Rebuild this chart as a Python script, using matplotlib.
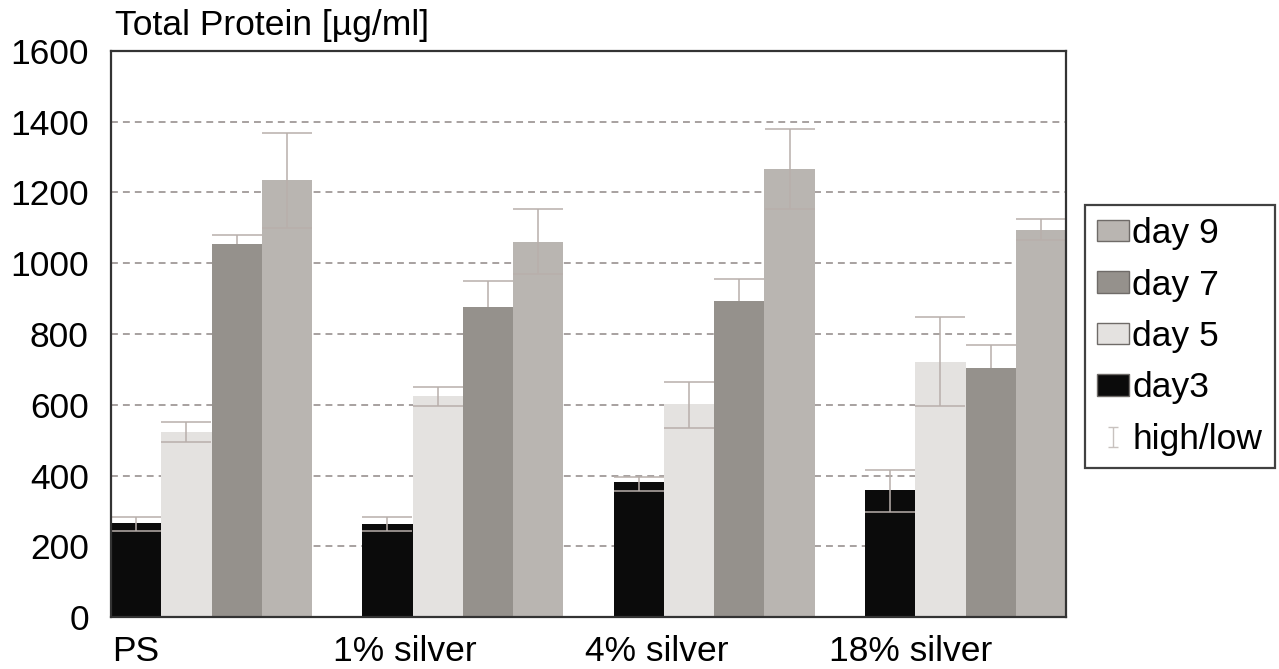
import matplotlib.pyplot as plt
import numpy as np
from matplotlib.lines import Line2D
from matplotlib.patches import Patch
from matplotlib.path import Path

plt.rcParams['font.family'] = ['Liberation Sans', 'DejaVu Sans']

# total protein per sample and day: mean with high/low values
samples = ['PS', '1% silver', '4% silver', '18% silver']
days = ['day3', 'day 5', 'day 7', 'day 9']

day3_mean = [265, 262, 381, 359]
day3_high = [283, 282, 396, 415]
day3_low = [244, 244, 356, 297]

day5_mean = [522, 625, 601, 720]
day5_high = [552, 651, 665, 847]
day5_low = [494, 597, 533, 597]

day7_mean = [1054, 877, 893, 703]
day7_high = [1080, 951, 955, 769]
day7_low = [1054, 877, 893, 703]

day9_mean = [1235, 1061, 1265, 1094]
day9_high = [1367, 1152, 1379, 1125]
day9_low = [1100, 969, 1152, 1066]

y_ticks = [0, 200, 400, 600, 800, 1000, 1200, 1400, 1600]

colors = ['#0b0b0b', '#e4e2e0', '#95918c', '#b9b5b1']
err_color = '#b8afab'
fsize = 25.5

series = [
    (day3_mean, day3_high, day3_low),
    (day5_mean, day5_high, day5_low),
    (day7_mean, day7_high, day7_low),
    (day9_mean, day9_high, day9_low),
]

fig = plt.figure(figsize=(12.79, 6.69), dpi=100)
ax = fig.add_axes([0.0868, 0.0777, 0.7467, 0.8461])

n_days = len(days)
group_step = n_days + 1
base = np.arange(len(samples)) * group_step

for i, (mean, high, low) in enumerate(series):
    mean = np.array(mean)
    xs = base + i + 0.5
    ax.bar(xs, mean, width=1.0, color=colors[i], zorder=2)
    yerr = [mean - np.array(low), np.array(high) - mean]
    eb = ax.errorbar(xs, mean, yerr=yerr, fmt='none', ecolor=err_color,
                     elinewidth=1.1, capsize=18, capthick=1.1, zorder=3)
    if i == 2:
        # day 7 only carries the upper whisker
        eb.lines[1][0].set_visible(False)

ax.set_xlim(0, base[-1] + n_days)
ax.set_ylim(0, 1600)
ax.set_yticks(y_ticks)
ax.tick_params(axis='y', length=0, pad=16, labelsize=fsize)

label_x = [0.02, 4.41, 9.42, 14.29]
ax.set_xticks(label_x)
ax.set_xticklabels(samples, ha='left')
ax.tick_params(axis='x', length=0, pad=13, labelsize=fsize)

ax.yaxis.grid(True, color='#8f8886', linewidth=1.1, linestyle=(0, (4.5, 3.3)), zorder=1)
ax.set_axisbelow(True)
for side in ['top', 'right', 'bottom', 'left']:
    ax.spines[side].set_color('#333333')
    ax.spines[side].set_linewidth(1.6)
    ax.spines[side].set_zorder(4)

fig.text(115 / 1279, 0.948, 'Total Protein [µg/ml]', fontsize=fsize, va='baseline')

# I-shaped marker for the high/low entry
i_path = Path([(-0.5, 1), (0.5, 1), (0, 1), (0, -1), (-0.5, -1), (0.5, -1)],
              [Path.MOVETO, Path.LINETO, Path.MOVETO, Path.LINETO, Path.MOVETO, Path.LINETO])
handles = [Patch(facecolor=colors[k], edgecolor='#6f6b68', linewidth=1.0) for k in [3, 2, 1, 0]]
handles.append(Line2D([], [], linestyle='none', marker=i_path, markersize=15,
                      markeredgecolor='#c8c2bf', markeredgewidth=1.0))
labels = [days[k] for k in [3, 2, 1, 0]] + ['high/low']
leg = fig.legend(handles, labels, loc='upper left', bbox_to_anchor=(0.848, 0.694),
                 fontsize=fsize, frameon=True, fancybox=False, edgecolor='#111111',
                 handlelength=0.9, handleheight=0.55, handletextpad=0.1,
                 labelspacing=0.52, borderpad=0.35, borderaxespad=0)
leg.get_frame().set_linewidth(1.6)

fig.savefig('out.png', dpi=100)
